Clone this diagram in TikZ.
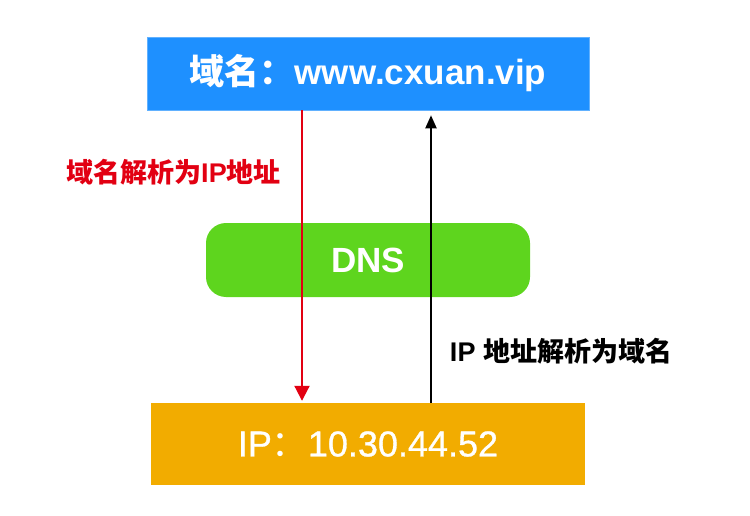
\documentclass[tikz,border=0pt]{standalone}
\usepackage{fontspec}
\setmainfont{Liberation Sans}
\newfontfamily\cjk{Noto Sans CJK SC}
\newfontfamily\midsans{Liberation Sans}[FakeBold=0.8]
\usetikzlibrary{arrows.meta}
\definecolor{cblue}{RGB}{30,144,255}
\definecolor{cgreen}{RGB}{94,213,30}
\definecolor{corange}{RGB}{242,172,0}
\definecolor{cred}{RGB}{226,0,18}
\tikzset{
  box/.style={rectangle, inner sep=0pt, text=white},
  lbl/.style={inner sep=0pt, font=\fontsize{27}{30}\selectfont\bfseries},
  conn/.style={line width=2pt}
}
\begin{document}
\begin{tikzpicture}[x=1pt,y=1pt]
\useasboundingbox (0,0) rectangle (750,-516);
\node[box, fill=cblue, draw=cblue!70!white, line width=0.6pt, minimum width=442pt, minimum height=73pt,
  font=\fontsize{35}{40}\selectfont\bfseries] (top) at (368,-73.5)
  {{\cjk 域名：}www.cxuan.vip};
\node[box, fill=cgreen, rounded corners=20pt, minimum width=324pt, minimum height=74pt,
  font=\fontsize{35}{40}\selectfont\bfseries] (dns) at (368,-260) {DNS};
\node[box, fill=corange, minimum width=434pt, minimum height=82pt,
  font=\fontsize{36}{40}\selectfont\midsans] (ip) at (368,-444) {IP{\cjk ：}10.30.44.52};
\coordinate (ra) at (302,0);
\coordinate (ba) at (431,0);
\draw[conn, cred, -{Triangle[width=15pt,length=15pt]}] (top.south -| ra) -- ([yshift=2pt]ip.north -| ra);
\draw[conn, black, -{Triangle[width=11pt,length=13pt]}] (ip.north -| ba) -- ([yshift=-5pt]top.south -| ba);
\node[lbl, text=cred] (l1) at (173.5,-172) {{\cjk 域名解析为}IP{\cjk 地址}};
\node[lbl, text=black] (l2) at (561,-351) {IP {\cjk 地址解析为域名}};
\end{tikzpicture}
\end{document}
